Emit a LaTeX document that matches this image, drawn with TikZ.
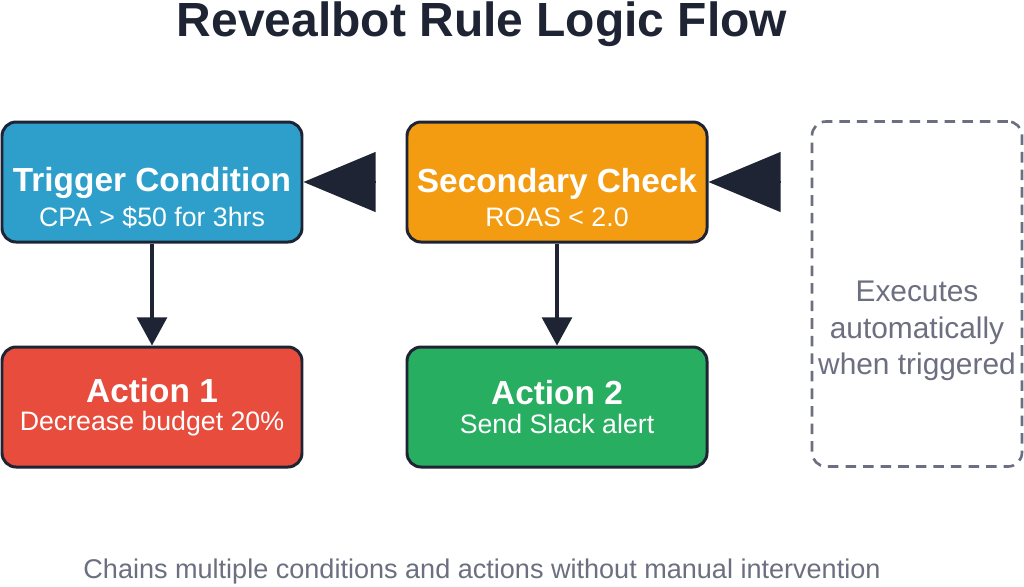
\documentclass[tikz,border=0pt]{standalone}
\usepackage{fontspec}
\setmainfont{Liberation Sans}
\usetikzlibrary{arrows.meta}
\definecolor{edgedark}{HTML}{1E2433}
\definecolor{trigblue}{HTML}{2E9FCB}
\definecolor{checkorange}{HTML}{F39C12}
\definecolor{actred}{HTML}{E74C3C}
\definecolor{actgreen}{HTML}{27AE60}
\definecolor{notegray}{HTML}{6B6F80}
\tikzset{
    flowbox/.style={
    rectangle,rounded corners=8pt,draw=edgedark,line width=1.7pt,
    minimum width=300*0.02cm,minimum height=120*0.02cm
    },
    boxtext/.style={
    text=white,align=center,yshift=-9pt
    },
    note/.style={
    rectangle,rounded corners=8pt,dash pattern=on 6pt off 4pt,draw=notegray,line width=1.5pt,
    minimum width=210*0.02cm,minimum height=345*0.02cm
    },
    notetext/.style={
    text=notegray,align=center,font=\fontsize{17}{21}\selectfont,yshift=-21pt
    },
    down/.style={
    draw=edgedark,line width=1.8pt,-{Triangle[length=16pt,width=17pt]}
    },
    big/.style={
    draw=edgedark,line width=1pt,shorten <=17pt,-{Triangle[length=41pt,width=34pt]}
    },
}
\newcommand{\head}[2]{{\fontsize{19}{22}\selectfont\bfseries #1}\\[4pt]{\fontsize{15.2}{18}\selectfont #2}}
\begin{document}
\begin{tikzpicture}[x=0.02cm,y=-0.02cm]
   \useasboundingbox (0,0) rectangle (1024,586);
   \node[font=\fontsize{27.3}{30}\selectfont\bfseries,text=edgedark] (title) at (482,24) {Revealbot Rule Logic Flow};

   %conditions
   \node[flowbox,fill=trigblue,label={[boxtext]center:\head{Trigger Condition}{CPA > \$50 for 3hrs}}] (trigger) at (152,182) {};
   \node[flowbox,fill=checkorange,label={[boxtext]center:\head{Secondary Check}{ROAS < 2.0}}] (check) at (557,182) {};
   \node[note,label={[notetext]center:Executes\\automatically\\when triggered}] (exec) at (917,294) {};

   %actions
   \node[flowbox,fill=actred,label={[boxtext,yshift=9pt]center:\head{Action 1}{Decrease budget 20\%}}] (act1) at (152,407) {};
   \node[flowbox,fill=actgreen,label={[boxtext,yshift=9pt]center:\head{Action 2}{Send Slack alert}}] (act2) at (557,407) {};

   \node[font=\fontsize{15.4}{18}\selectfont,text=notegray] (foot) at (482,571) {Chains multiple conditions and actions without manual intervention};

   \draw[down] (trigger) -- (act1);
   \draw[down] (check) -- (act2);
   \draw[big] (exec.west |- check) -- (check);
   \draw[big] (check) -- (trigger);
\end{tikzpicture}
\end{document}
